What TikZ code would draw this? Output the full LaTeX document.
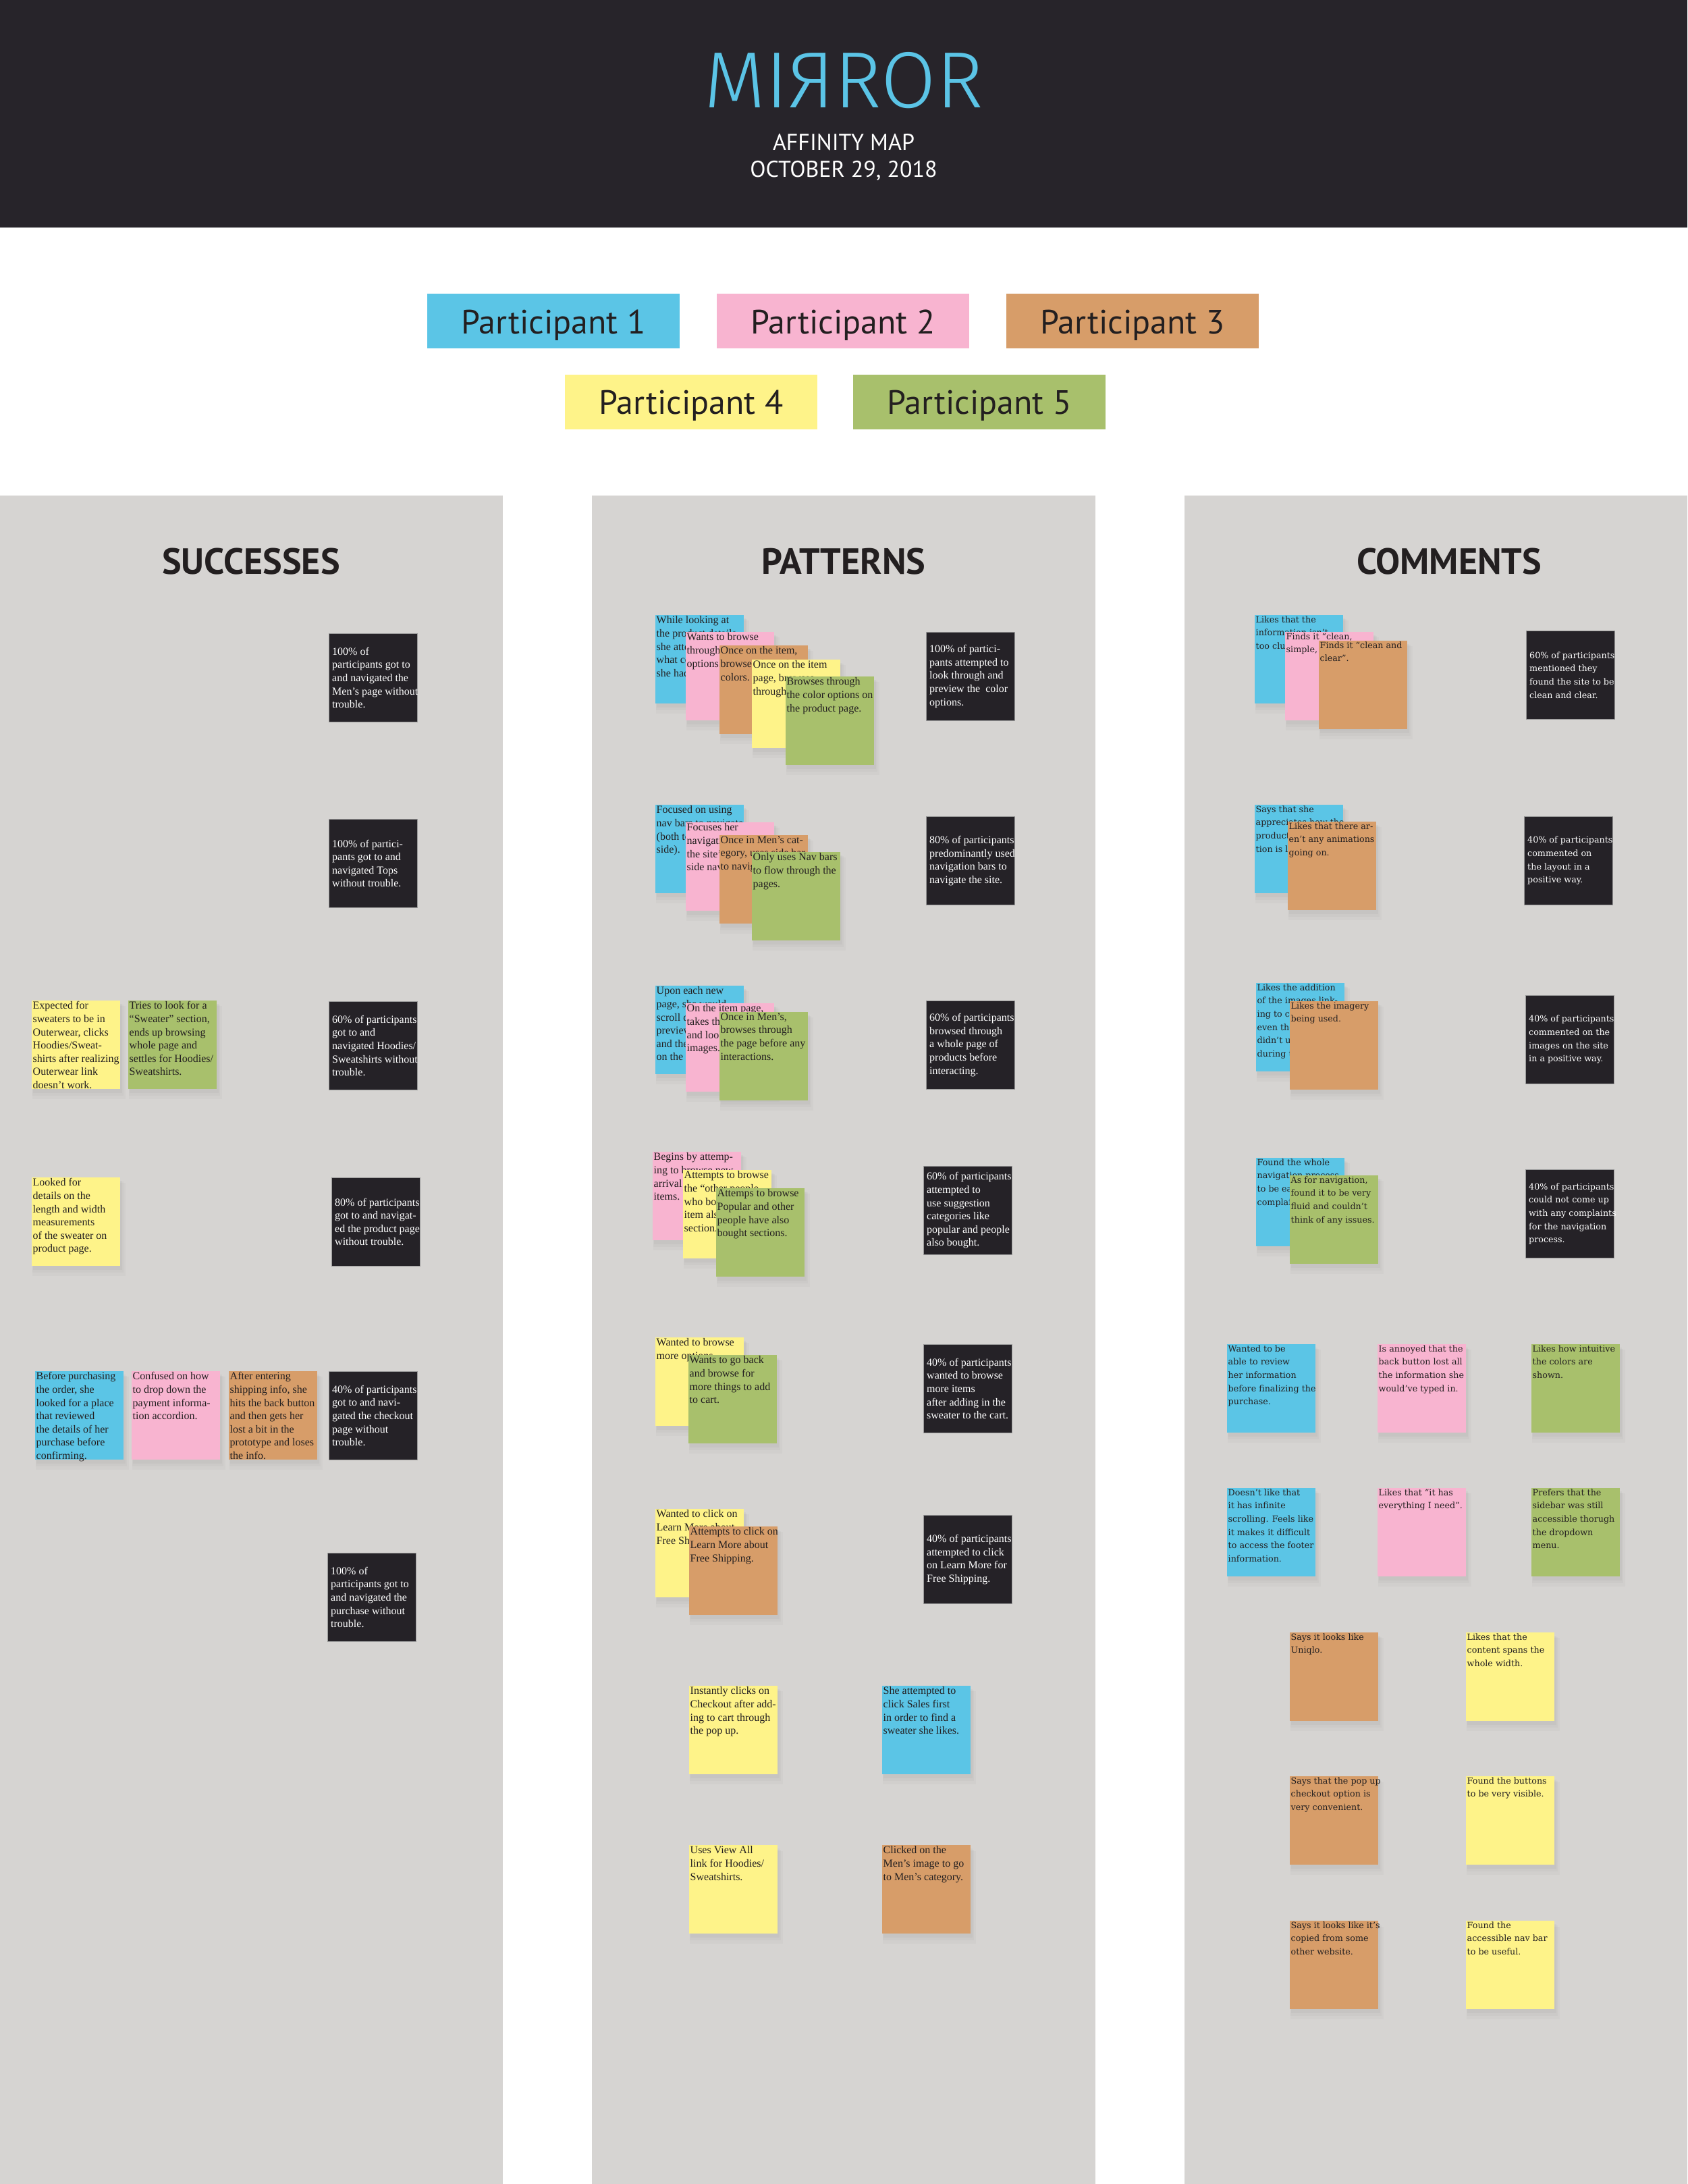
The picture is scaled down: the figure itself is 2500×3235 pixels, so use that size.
\documentclass[tikz,border=0pt]{standalone}
\usepackage{fontspec}
\usepackage{graphicx}
\usetikzlibrary{shadows}
\setmainfont{Liberation Serif}
\newfontfamily\headsans{PT Sans}
\newfontfamily\wideserif{DejaVu Serif}
\IfFontExistsTF{Fira Sans Light}{\newfontfamily\titlefont{Fira Sans Light}}{\newfontfamily\titlefont{PT Sans}}

\definecolor{bandbg}{HTML}{27242A}
\definecolor{mirrorcyan}{HTML}{5BC4E6}
\definecolor{panelgrey}{HTML}{D6D4D2}
\definecolor{inkdark}{HTML}{231F20}
\definecolor{pblue}{HTML}{5BC5E6}
\definecolor{ppink}{HTML}{F8B4D0}
\definecolor{porange}{HTML}{D79D69}
\definecolor{pyellow}{HTML}{FEF389}
\definecolor{pgreen}{HTML}{A8C06C}
\definecolor{pdark}{HTML}{252227}

\tikzset{
 notebox/.style={anchor=north west, minimum width=131pt, minimum height=131pt, inner sep=0pt, draw=none,
   drop shadow={opacity=0.05, shadow xshift=4pt, shadow yshift=-11pt, shadow scale=1.05},
   drop shadow={opacity=0.06, shadow xshift=3pt, shadow yshift=-8pt, shadow scale=1.03},
   drop shadow={opacity=0.07, shadow xshift=2pt, shadow yshift=-5pt, shadow scale=1.01}},
 darkbox/.style={anchor=north west, minimum width=131pt, minimum height=131pt, inner sep=0pt, fill=pdark,
   draw=black!40, line width=0.8pt},
 notefont/.style={font=\fontsize{16}{19.6}\selectfont},
 commentfont/.style={font=\wideserif\fontsize{12.7}{19.6}\selectfont},
 notetext/.style={anchor=north west, align=left, inner sep=1.5pt, text=inkdark, notefont},
 darktext/.style={anchor=west, align=left, inner sep=0pt, text=white, notefont},
 pbox/.style={minimum width=374pt, minimum height=81pt, inner sep=0pt},
 plabel/.style={anchor=base, text=inkdark, font=\headsans\fontsize{50}{50}\selectfont},
 colhead/.style={anchor=base, text=inkdark, font=\headsans\bfseries\fontsize{54}{54}\selectfont},
}

% name, x, y, colour, extra style, text
\newcommand\sticky[6]{%
  \node[notebox, fill=#4] (#1) at (#2,#3) {};
  \node[notetext, #5] (#1t) at (#1.north west) {#6};}
% name, x, y, extra style, text
\newcommand\summary[5]{%
  \node[darkbox] (#1) at (#2,#3) {};
  \node[darktext, #4] (#1t) at ([xshift=5pt]#1.west) {#5};}

\begin{document}
\begin{tikzpicture}[x=1pt,y=-1pt]
\useasboundingbox (0,0) rectangle (2500,3235);
\fill[white] (0,0) rectangle (2500,3235);

% header band
\fill[bandbg] (0,0) rectangle (2500,337);
\node[anchor=base, text=mirrorcyan, inner sep=0pt, font=\titlefont\fontsize{118}{118}\selectfont] (title) at (1250,160) {MI\reflectbox{R}ROR};
\node[anchor=base, text=white, font=\headsans\fontsize{34}{34}\selectfont] (subtitle) at (1250,223) {AFFINITY MAP};
\node[anchor=base, text=white, font=\headsans\fontsize{34}{34}\selectfont] (date) at (1250,262) {OCTOBER 29, 2018};

% participants legend
\node[pbox, fill=pblue] (part1) at (820,475.5) {};
\node[plabel] (part1t) at (820,494) {Participant 1};
\node[pbox, fill=ppink] (part2) at (1249,475.5) {};
\node[plabel] (part2t) at (1249,494) {Participant 2};
\node[pbox, fill=porange] (part3) at (1678,475.5) {};
\node[plabel] (part3t) at (1678,494) {Participant 3};
\node[pbox, fill=pyellow] (part4) at (1024,595) {};
\node[plabel] (part4t) at (1024,613) {Participant 4};
\node[pbox, fill=pgreen] (part5) at (1451,595) {};
\node[plabel] (part5t) at (1451,613) {Participant 5};

% panels
\fill[panelgrey] (0,734) rectangle (745,3235);
\fill[panelgrey] (877,734) rectangle (1623,3235);
\fill[panelgrey] (1755,734) rectangle (2500,3235);

\node[colhead] (hsucc) at (372,850) {SUCCESSES};
\node[colhead] (hpatt) at (1250,850) {PATTERNS};
\node[colhead] (hcomm) at (2147,850) {COMMENTS};

% ---------------- SUCCESSES ----------------
\summary{s1}{487}{938}{}{100\% of\\participants got to\\and navigated the\\Men’s page without\\trouble.}
\summary{s2}{487}{1213}{}{100\% of partici-\\pants got to and\\navigated Tops\\without trouble.}
\sticky{s3}{47}{1482}{pyellow}{}{Expected for\\sweaters to be in\\Outerwear, clicks\\Hoodies/Sweat-\\shirts after realizing\\Outerwear link\\doesn’t work.}
\sticky{s4}{190}{1482}{pgreen}{}{Tries to look for a\\“Sweater” section,\\ends up browsing\\whole page and\\settles for Hoodies/\\Sweatshirts.}
\summary{s5}{487}{1483}{}{60\% of participants\\got to and\\navigated Hoodies/\\Sweatshirts without\\trouble.}
\sticky{s6}{47}{1744}{pyellow}{}{Looked for\\details on the\\length and width\\measurements\\of the sweater on\\product page.}
\summary{s7}{491}{1744}{}{80\% of participants\\got to and navigat-\\ed the product page\\without trouble.}
\sticky{s8}{52}{2031}{pblue}{}{Before purchasing\\the order, she\\looked for a place\\that reviewed\\the details of her\\purchase before\\confirming.}
\sticky{s9}{195}{2031}{ppink}{}{Confused on how\\to drop down the\\payment informa-\\tion accordion.}
\sticky{s10}{339}{2031}{porange}{}{After entering\\shipping info, she\\hits the back button\\and then gets her\\lost a bit in the\\prototype and loses\\the info.}
\summary{s11}{487}{2031}{}{40\% of participants\\got to and navi-\\gated the checkout\\page without\\trouble.}
\summary{s12}{485}{2300}{}{100\% of\\participants got to\\and navigated the\\purchase without\\trouble.}

% ---------------- PATTERNS ----------------
\sticky{p1a}{971}{911}{pblue}{}{While looking at\\the product details,\\she attempted to see\\what colors options\\she had.}
\sticky{p1b}{1016}{936}{ppink}{}{Wants to browse\\through the color\\options.}
\sticky{p1c}{1066}{956}{porange}{}{Once on the item,\\browses through\\colors.}
\sticky{p1d}{1114}{977}{pyellow}{}{Once on the item\\page, browses\\through the colors.}
\sticky{p1e}{1164}{1002}{pgreen}{}{Browses through\\the color options on\\the product page.}
\summary{p1s}{1372}{936}{}{100\% of partici-\\pants attempted to\\look through and\\preview the \ color\\options.}

\sticky{p2a}{971}{1192}{pblue}{}{Focused on using\\nav bars to navigate\\(both top and\\side).}
\sticky{p2b}{1016}{1218}{ppink}{}{Focuses her\\navigation on\\the site’s top and\\side navigation.}
\sticky{p2c}{1066}{1237}{porange}{}{Once in Men’s cat-\\egory, uses side bar\\to navigate.}
\sticky{p2d}{1114}{1262}{pgreen}{}{Only uses Nav bars\\to flow through the\\pages.}
\summary{p2s}{1372}{1209}{}{80\% of participants\\predominantly used\\navigation bars to\\navigate the site.}

\sticky{p3a}{971}{1460}{pblue}{}{Upon each new\\page, she would\\scroll down to\\preview items\\and then click\\on the one.}
\sticky{p3b}{1016}{1486}{ppink}{}{On the item page,\\takes the time\\and looks at the\\images.}
\sticky{p3c}{1066}{1499}{pgreen}{}{Once in Men’s,\\browses through\\the page before any\\interactions.}
\summary{p3s}{1372}{1482}{}{60\% of participants\\browsed through\\a whole page of\\products before\\interacting.}

\sticky{p4a}{967}{1706}{ppink}{}{Begins by attemp-\\ing to browse new\\arrival\\items.}
\sticky{p4b}{1012}{1733}{pyellow}{}{Attempts to browse\\the “other people\\who bought this\\item also bought”\\section.}
\sticky{p4c}{1061}{1760}{pgreen}{}{Attemps to browse\\Popular and other\\people have also\\bought sections.}
\summary{p4s}{1368}{1727}{}{60\% of participants\\attempted to\\use suggestion\\categories like\\popular and people\\also bought.}

\sticky{p5a}{971}{1981}{pyellow}{}{Wanted to browse\\more options.}
\sticky{p5b}{1020}{2007}{pgreen}{}{Wants to go back\\and browse for\\more things to add\\to cart.}
\summary{p5s}{1368}{1991}{}{40\% of participants\\wanted to browse\\more items\\after adding in the\\sweater to the cart.}

\sticky{p6a}{971}{2235}{pyellow}{}{Wanted to click on\\Learn More about\\Free Shipping.}
\sticky{p6b}{1021}{2261}{porange}{}{Attempts to click on\\Learn More about\\Free Shipping.}
\summary{p6s}{1368}{2244}{}{40\% of participants\\attempted to click\\on Learn More for\\Free Shipping.}

\sticky{p7a}{1021}{2497}{pyellow}{}{Instantly clicks on\\Checkout after add-\\ing to cart through\\the pop up.}
\sticky{p7b}{1307}{2497}{pblue}{}{She attempted to\\click Sales first\\in order to find a\\sweater she likes.}
\sticky{p8a}{1021}{2733}{pyellow}{}{Uses View All\\link for Hoodies/\\Sweatshirts.}
\sticky{p8b}{1307}{2733}{porange}{}{Clicked on the\\Men’s image to go\\to Men’s category.}

% ---------------- COMMENTS ----------------
\sticky{c1a}{1859}{911}{pblue}{commentfont}{Likes that the\\information isn’t\\too cluttered.}
\sticky{c1b}{1904}{936}{ppink}{commentfont}{Finds it “clean,\\simple, and neat”.}
\sticky{c1c}{1954}{949}{porange}{commentfont}{Finds it “clean and\\clear”.}
\summary{c1s}{2261}{934}{commentfont}{60\% of participants\\mentioned they\\found the site to be\\clean and clear.}

\sticky{c2a}{1859}{1192}{pblue}{commentfont}{Says that she\\appreciates how the\\product informa-\\tion is laid out.}
\sticky{c2b}{1908}{1217}{porange}{commentfont}{Likes that there ar-\\en’t any animations\\going on.}
\summary{c2s}{2258}{1209}{commentfont}{40\% of participants\\commented on\\the layout in a\\positive way.}

\sticky{c3a}{1861}{1456}{pblue}{commentfont}{Likes the addition\\of the images link-\\ing to categories\\even though she\\didn’t use them\\during the test.}
\sticky{c3b}{1911}{1483}{porange}{commentfont}{Likes the imagery\\being used.}
\summary{c3s}{2260}{1474}{commentfont}{40\% of participants\\commented on the\\images on the site\\in a positive way.}

\sticky{c4a}{1861}{1715}{pblue}{commentfont}{Found the whole\\navigation process\\to be easy with no\\complaints.}
\sticky{c4b}{1911}{1741}{pgreen}{commentfont}{As for navigation,\\found it to be very\\fluid and couldn’t\\think of any issues.}
\summary{c4s}{2260}{1732}{commentfont}{40\% of participants\\could not come up\\with any complaints\\for the navigation\\process.}

\sticky{c5a}{1818}{1991}{pblue}{commentfont}{Wanted to be\\able to review\\her information\\before finalizing the\\purchase.}
\sticky{c5b}{2041}{1991}{ppink}{commentfont}{Is annoyed that the\\back button lost all\\the information she\\would’ve typed in.}
\sticky{c5c}{2269}{1991}{pgreen}{commentfont}{Likes how intuitive\\the colors are\\shown.}
\sticky{c6a}{1818}{2204}{pblue}{commentfont}{Doesn’t like that\\it has infinite\\scrolling. Feels like\\it makes it difficult\\to access the footer\\information.}
\sticky{c6b}{2041}{2204}{ppink}{commentfont}{Likes that “it has\\everything I need”.}
\sticky{c6c}{2269}{2204}{pgreen}{commentfont}{Prefers that the\\sidebar was still\\accessible thorugh\\the dropdown\\menu.}
\sticky{c7a}{1911}{2418}{porange}{commentfont}{Says it looks like\\Uniqlo.}
\sticky{c7b}{2172}{2418}{pyellow}{commentfont}{Likes that the\\content spans the\\whole width.}
\sticky{c8a}{1911}{2631}{porange}{commentfont}{Says that the pop up\\checkout option is\\very convenient.}
\sticky{c8b}{2172}{2631}{pyellow}{commentfont}{Found the buttons\\to be very visible.}
\sticky{c9a}{1911}{2845}{porange}{commentfont}{Says it looks like it’s\\copied from some\\other website.}
\sticky{c9b}{2172}{2845}{pyellow}{commentfont}{Found the\\accessible nav bar\\to be useful.}
\end{tikzpicture}
\end{document}
